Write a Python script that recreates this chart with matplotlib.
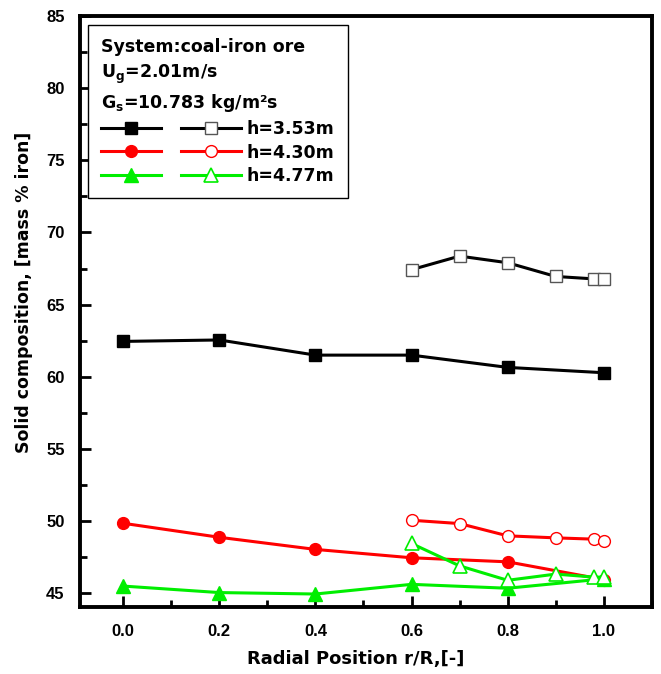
import matplotlib
matplotlib.use('Agg')
import matplotlib.pyplot as plt
from matplotlib.ticker import MultipleLocator

plt.rcParams['font.family'] = ['Liberation Sans', 'DejaVu Sans']
plt.rcParams['font.weight'] = 'bold'
plt.rcParams['mathtext.fontset'] = 'custom'
plt.rcParams['mathtext.rm'] = 'DejaVu Sans:bold'
plt.rcParams['mathtext.it'] = 'DejaVu Sans:bold'
plt.rcParams['mathtext.bf'] = 'DejaVu Sans:bold'

# radial positions: full profile and near-wall profile
r_full = [0.0, 0.2, 0.4, 0.6, 0.8, 1.0]
r_part = [0.6, 0.7, 0.8, 0.9, 0.98, 1.0]

h353_filled = [62.45, 62.55, 61.5, 61.5, 60.65, 60.28]
h353_open = [67.42, 68.36, 67.9, 66.95, 66.78, 66.75]
h430_filled = [49.85, 48.88, 48.04, 47.46, 47.18, 45.95]
h430_open = [50.06, 49.83, 48.98, 48.84, 48.75, 48.6]
h477_filled = [45.5, 45.05, 44.95, 45.62, 45.35, 46.0]
h477_open = [48.45, 46.9, 45.9, 46.33, 46.12, 46.12]

labels = ['h=3.53m', 'h=4.30m', 'h=4.77m']
colors = ['black', '#ff0000', '#00ee00']

fig = plt.figure(figsize=(6.61, 6.74), dpi=100)
ax = fig.add_axes([0.121, 0.0994, 0.865, 0.877])

lw = 2.2
ms = 8.5
h = []
h.append(ax.plot(r_full, h353_filled, '-s', color=colors[0], lw=lw, ms=ms)[0])
h.append(ax.plot(r_part, h353_open, '-s', color=colors[0], lw=lw, ms=ms,
                 mfc='white', mec='#555555', mew=1.0)[0])
h.append(ax.plot(r_full, h430_filled, '-o', color=colors[1], lw=lw, ms=ms)[0])
h.append(ax.plot(r_part, h430_open, '-o', color=colors[1], lw=lw, ms=ms,
                 mfc='white', mec=colors[1], mew=1.0)[0])
h.append(ax.plot(r_full, h477_filled, '-^', color=colors[2], lw=lw, ms=ms + 1)[0])
h.append(ax.plot(r_part, h477_open, '-^', color=colors[2], lw=lw, ms=ms + 1,
                 mfc='white', mec=colors[2], mew=1.2)[0])

ax.set_xlim(-0.09, 1.1)
ax.set_ylim(44.05, 85)
ax.set_xticks([0.0, 0.2, 0.4, 0.6, 0.8, 1.0])
ax.xaxis.set_minor_locator(MultipleLocator(0.1))
ax.yaxis.set_major_locator(MultipleLocator(5))
ax.yaxis.set_minor_locator(MultipleLocator(2.5))
ax.tick_params(which='major', direction='in', length=8, width=2, labelsize=12, pad=11)
ax.tick_params(which='minor', direction='in', length=5, width=2)
ax.tick_params(axis='x', pad=12)
for s in ax.spines.values():
    s.set_linewidth(2.8)

ax.set_xlabel('Radial Position r/R,[-]', fontsize=13, fontweight='bold',
              family='DejaVu Sans')
ax.set_ylabel('Solid composition, [mass % iron]', fontsize=12.5, fontweight='bold',
              family='DejaVu Sans')
ax.xaxis.set_label_coords(0.4825, -0.072)
ax.yaxis.set_label_coords(-0.082, 0.533)

handles = [h[0], h[2], h[4], h[1], h[3], h[5]]
leg_labels = [''] * 3 + labels
leg = ax.legend(handles, leg_labels, ncol=2, loc='upper left',
                bbox_to_anchor=(0.014, 0.984), borderaxespad=0,
                title='System:coal-iron ore\nU$_g$=2.01m/s\nG$_s$=10.783 kg/m²s',
                title_fontproperties={'size': 12.5, 'weight': 'bold', 'family': 'DejaVu Sans'},
                alignment='left', prop={'size': 12.5, 'weight': 'bold', 'family': 'DejaVu Sans'},
                fancybox=False, edgecolor='black', framealpha=1,
                handlelength=3.45, handletextpad=0.35, columnspacing=0.8,
                labelspacing=0.33, borderpad=0.75)
leg.get_title().set_linespacing(1.4)
leg.get_frame().set_linewidth(1.0)

fig.savefig('out.png', dpi=100)
